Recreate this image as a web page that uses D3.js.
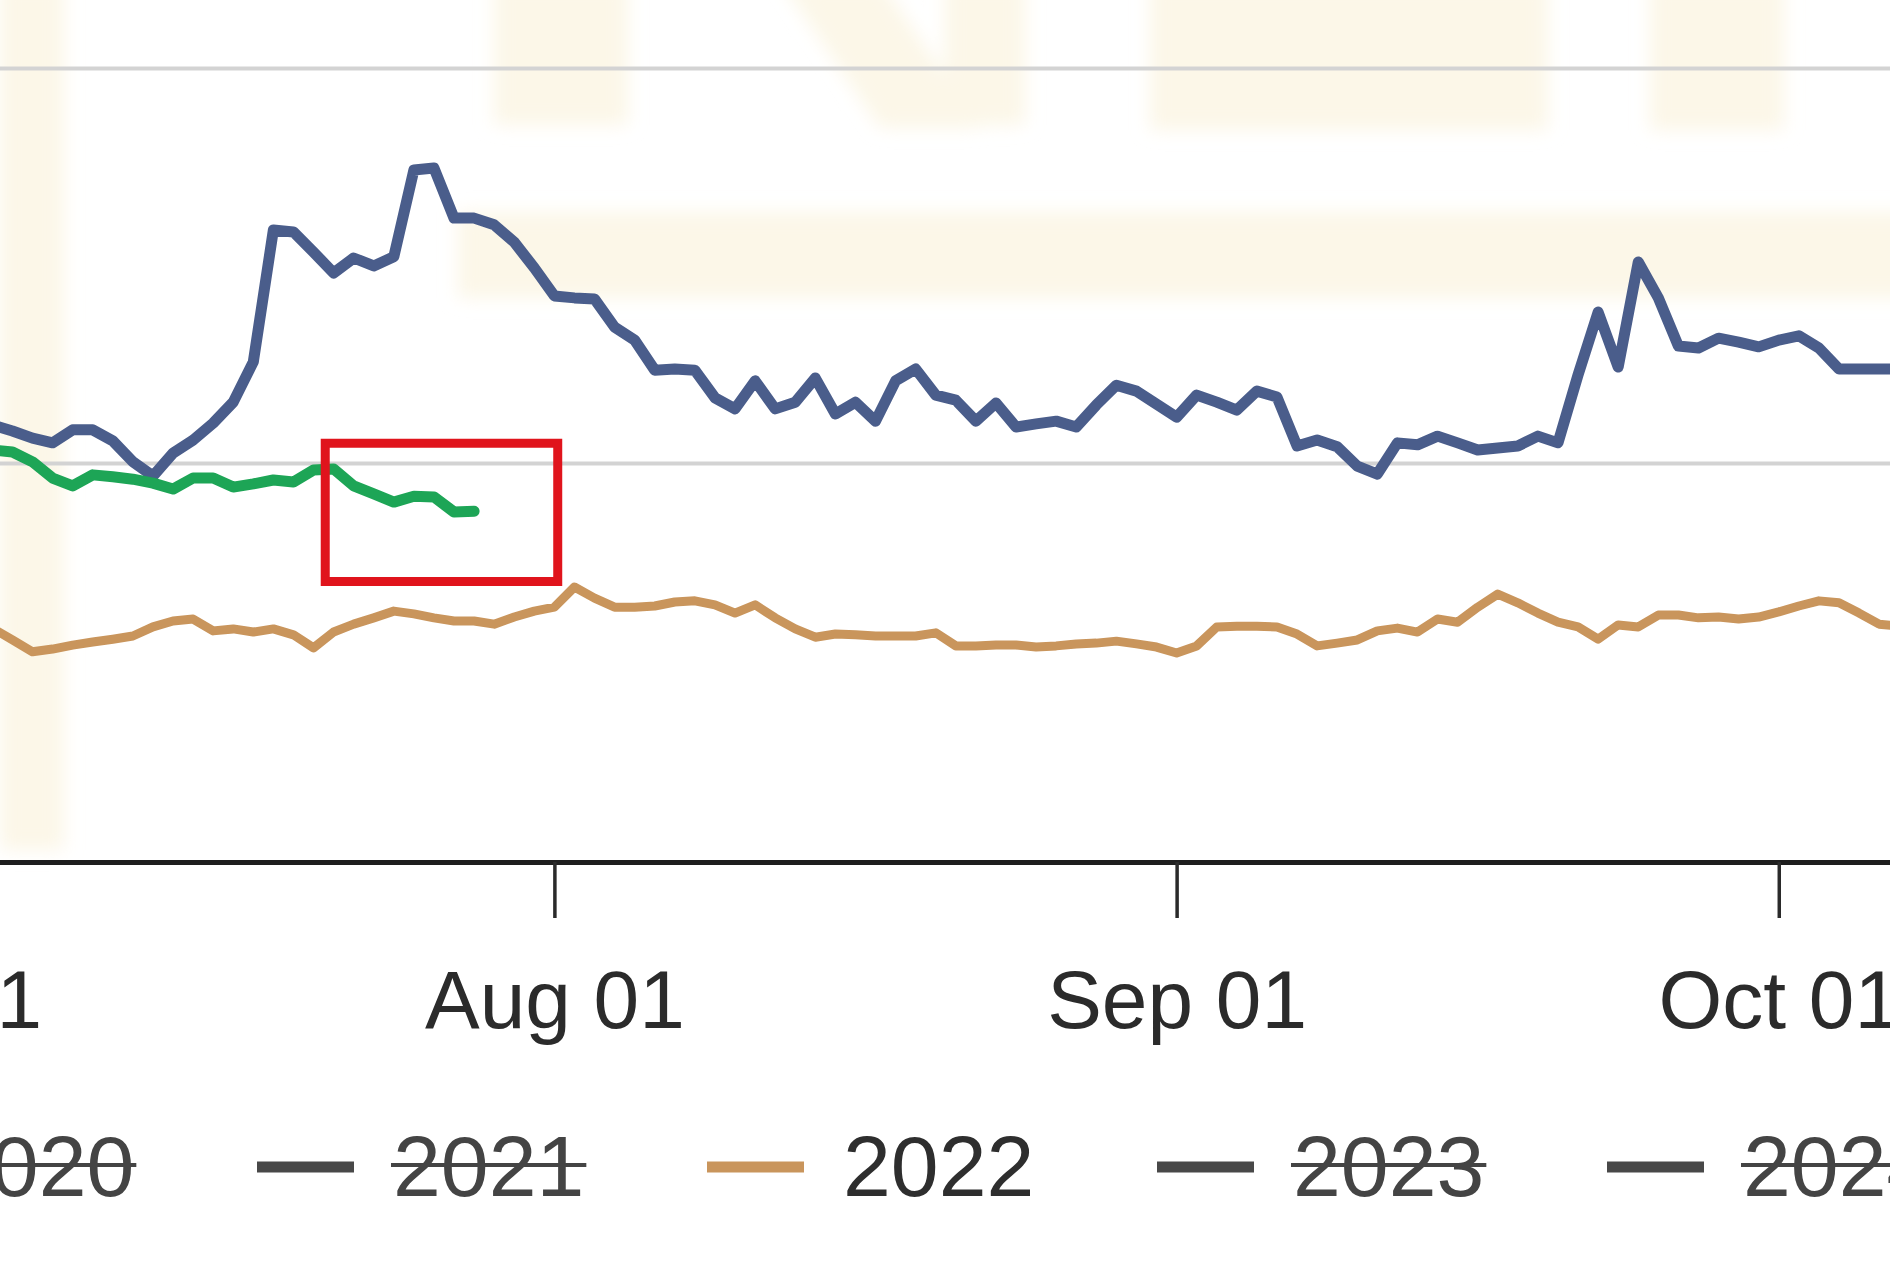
<!DOCTYPE html>
<html>
<head>
<meta charset="utf-8">
<script src="https://cdn.jsdelivr.net/npm/d3@7"></script>
<style>
  html, body { margin: 0; padding: 0; background: #fff; overflow: hidden; }
  svg { display: block; font-family: "Liberation Sans", Arial, sans-serif; }
</style>
</head>
<body>
<svg id="chart" width="1890" height="1263"></svg>
<script>
// daily points, first one is Jul 04
var firstDay = new Date(2022, 6, 4);

var seriesBlue = [
  109.6, 108.1, 106.3, 105.1, 108.4, 108.4, 105.6, 100.3, 96.7, 102.5,
  105.8, 110.1, 115.4, 125.6, 159.0, 158.5, 153.4, 148.1, 151.9, 149.9,
  152.2, 174.2, 174.7, 162.0, 162.0, 160.3, 155.9, 149.4, 142.3, 141.8,
  141.5, 134.4, 131.1, 123.5, 123.8, 123.5, 116.5, 113.7, 120.8, 113.7,
  115.4, 121.5, 112.4, 115.4, 110.6, 120.8, 123.8, 117.2, 115.9, 110.6,
  115.2, 109.1, 109.9, 110.6, 109.1, 114.7, 119.7, 118.2, 114.9, 111.6,
  117.2, 115.4, 113.4, 118.2, 116.7, 104.3, 105.8, 104.1, 99.2, 97.2,
  105.1, 104.6, 106.8, 105.1, 103.3, 103.8, 104.3, 106.8, 105.1, 122.3,
  138.2, 124.3, 150.9, 141.8, 129.6, 129.1, 131.6, 130.6, 129.4, 131.1,
  132.2, 129.1, 123.8, 123.8, 123.8, 123.8
];

var seriesGreen = [
  103.3, 102.8, 100.3, 96.2, 94.2, 97.0, 96.5, 95.9, 94.9, 93.4,
  96.2, 96.2, 93.9, 94.7, 95.7, 95.2, 98.2, 98.5, 94.2, 92.2,
  90.1, 91.6, 91.4, 87.6, 87.8
];

var series2022 = [
  58.2, 55.2, 52.2, 52.9, 53.9, 54.7, 55.4, 56.2, 58.5, 60.0,
  60.5, 57.5, 58.0, 57.2, 58.0, 56.5, 53.2, 57.2, 59.2, 60.8,
  62.5, 61.8, 60.8, 60.0, 60.0, 59.2, 61.0, 62.5, 63.5, 68.6,
  65.8, 63.5, 63.5, 63.8, 64.8, 65.1, 64.1, 62.0, 64.1, 60.8,
  58.0, 55.9, 56.7, 56.5, 56.2, 56.2, 56.2, 57.0, 53.7, 53.7,
  53.9, 53.9, 53.4, 53.7, 54.2, 54.4, 54.9, 54.2, 53.4, 51.9,
  53.7, 58.5, 58.7, 58.7, 58.5, 56.7, 53.7, 54.4, 55.2, 57.5,
  58.2, 57.2, 60.5, 59.7, 63.5, 66.8, 64.6, 62.0, 59.7, 58.5,
  55.4, 59.0, 58.5, 61.5, 61.5, 60.8, 61.0, 60.5, 61.0, 62.3,
  63.8, 65.1, 64.6, 62.0, 59.2, 58.7
];

var tickDates = [new Date(2022, 6, 1), new Date(2022, 7, 1), new Date(2022, 8, 1), new Date(2022, 9, 1)];
var gridValues = [100, 200];

var legendYears = ["2020", "2021", "2022", "2023", "2024"];
var legendHidden = [true, true, false, true, true];

// hand drawn box on the picture
var boxFrom = new Date(2022, 6, 20, 14);
var boxTo = new Date(2022, 7, 1, 4);
var boxValues = [105, 70];

var W = 1890, H = 1263;
var axisY = 862;

var svg = d3.select('#chart');

svg.append("rect").attr("width", W).attr("height", H).attr("fill", "#fff");

// faint watermark left in the photo
var defs = svg.append("defs");
defs.append("filter").attr("id", "soft")
    .attr("x", "-10%").attr("y", "-10%").attr("width", "120%").attr("height", "120%")
    .append("feGaussianBlur").attr("stdDeviation", 9);

var wm = svg.append("g").attr("filter", "url(#soft)").attr("fill", "#fcf7e8");
[[0, -20, 64, 870], [494, -20, 134, 145], [945, -20, 80, 145], [1150, -20, 398, 150],
 [1650, -20, 134, 150], [458, 212, 1460, 86]].forEach(function(r){
  wm.append("rect").attr("x", r[0]).attr("y", r[1]).attr("width", r[2]).attr("height", r[3]);
});
wm.append("path").attr("d", "M780,-20 L880,-20 L980,128 L880,128 Z");

var x = d3.scaleTime()
    .domain([new Date(2022, 5, 1), new Date(2022, 10, 1)])
    .range([-670, 2401]);

var y = d3.scaleLinear()
    .domain([0, 200])
    .range([858, 68]);

var dates = seriesBlue.map(function(v, i){ return d3.timeDay.offset(firstDay, i); });

// grid
svg.append("g")
    .attr("class", "grid")
    .call(d3.axisLeft(y).tickValues(gridValues).tickSize(-W).tickFormat(""))
    .call(function(g){
      g.select(".domain").remove();
      g.selectAll("line").attr("stroke", "#d3d3d3").attr("stroke-width", 4);
    });

var line = d3.line()
    .x(function(d){ return x(d.date); })
    .y(function(d){ return y(d.value); });

function toPoints(values){
  return values.map(function(v, i){ return {date: dates[i], value: v}; });
}

var lines = [
  {values: series2022, color: "#c9955c", width: 9},
  {values: seriesBlue, color: "#4a5d8b", width: 11},
  {values: seriesGreen, color: "#1da556", width: 11}
];

svg.append("g").selectAll("path")
    .data(lines)
    .enter().append("path")
    .attr("d", function(d){ return line(toPoints(d.values)); })
    .attr("fill", "none")
    .attr("stroke", function(d){ return d.color; })
    .attr("stroke-width", function(d){ return d.width; })
    .attr("stroke-linejoin", "round")
    .attr("stroke-linecap", "round");

// red box
svg.append("rect")
    .attr("x", x(boxFrom))
    .attr("y", y(boxValues[0]))
    .attr("width", x(boxTo) - x(boxFrom))
    .attr("height", y(boxValues[1]) - y(boxValues[0]))
    .attr("fill", "none")
    .attr("stroke", "#e0141c")
    .attr("stroke-width", 9);

// x axis
svg.append("g")
    .attr("transform", "translate(0," + axisY + ")")
    .call(d3.axisBottom(x)
        .tickValues(tickDates)
        .tickSize(56)
        .tickSizeOuter(0)
        .tickFormat(d3.timeFormat("%b %d")))
    .call(function(g){
      g.select(".domain").attr("stroke", "#1e1e1e").attr("stroke-width", 5);
      g.selectAll(".tick line").attr("stroke", "#2a2a2a").attr("stroke-width", 3.5);
      g.selectAll(".tick text")
          .attr("y", 166).attr("dy", null)
          .attr("fill", "#2b2b2b")
          .attr("font-size", 82)
          .attr("font-family", "'Liberation Sans', Arial, sans-serif");
    });

// legend
var legend = svg.append("g").attr("transform", "translate(-193,1167)");

var item = legend.selectAll("g")
    .data(legendYears)
    .enter().append("g")
    .attr("transform", function(d, i){ return "translate(" + (i * 450) + ",0)"; });

item.append("line")
    .attr("x1", 0).attr("x2", 97)
    .attr("stroke", function(d, i){ return legendHidden[i] ? "#484848" : "#c9955c"; })
    .attr("stroke-width", 11);

item.append("text")
    .attr("x", 136)
    .attr("y", 29)
    .attr("font-size", 86)
    .attr("fill", function(d, i){ return legendHidden[i] ? "#444" : "#2e2e2e"; })
    .text(function(d){ return d; });

item.each(function(d, i){
  if (!legendHidden[i]) return;
  var g = d3.select(this);
  var len = g.select("text").node().getComputedTextLength();
  g.append("line")
      .attr("x1", 134).attr("x2", 136 + len + 2)
      .attr("y1", -2).attr("y2", -2)
      .attr("stroke", "#444")
      .attr("stroke-width", 4);
});
</script>
</body>
</html>
